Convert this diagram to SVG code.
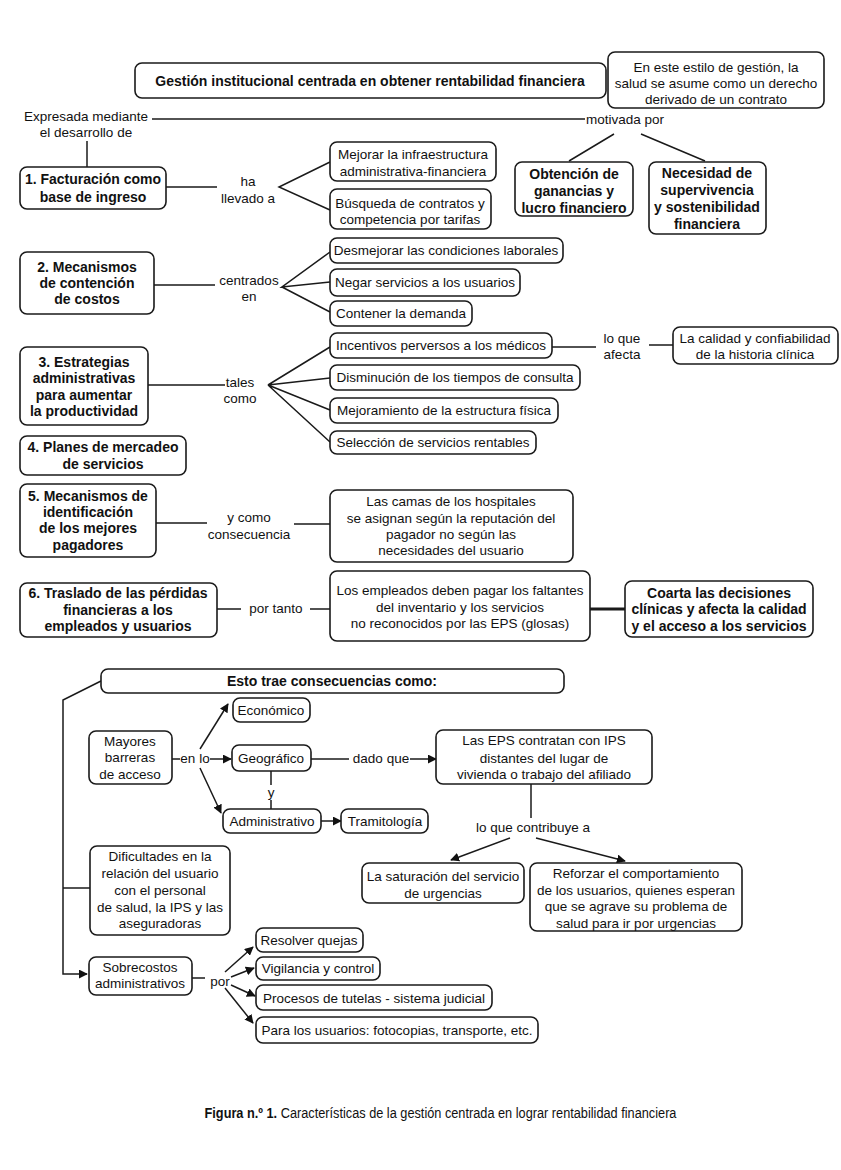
<svg xmlns="http://www.w3.org/2000/svg" width="841" height="1170" viewBox="0 0 841 1170">
<defs>
<style>
.b{fill:#fff;stroke:#1a1a1a;stroke-width:1.6}
text{font-family:"Liberation Sans",Arial,sans-serif;font-size:13.5px;fill:#111;text-anchor:middle}
.bd{font-weight:bold;font-size:14px}
.c{fill:none;stroke:#1a1a1a;stroke-width:1.5}
.a{marker-end:url(#ah)}
.cap{font-size:15px}
</style>
<marker id="ah" viewBox="0 0 10 10" refX="9" refY="5" markerWidth="9" markerHeight="9" markerUnits="userSpaceOnUse" orient="auto"><path d="M0,0 L10,5 L0,10 z" fill="#111"/></marker>
</defs>
<rect width="841" height="1170" fill="#fff"/>

<g id="connectors">
<path class="c" d="M152,119 H585"/>
<path class="c" d="M87,141 V167"/>
<path class="c" d="M614,134 L569,161 M641,134 L705,161"/>
<path class="c" d="M166,187 H217 M330,162 L279,187 L330,210"/>
<path class="c" d="M154,285 H215 M330,252 L282,287 L330,282 M282,287 L330,312"/>
<path class="c" d="M148,385 H225 M330,347 L268,385 L330,378 M268,385 L330,410 M268,385 L330,442"/>
<path class="c" d="M552,347 H596 M649,345 H673"/>
<path class="c" d="M156,523 H207 M294,524 H330"/>
<path class="c" d="M217,609 H241 M310,609 H330"/>
<path class="c" d="M590,609 H625" style="stroke-width:3"/>
<path class="c a" d="M101,681 L63,700 V974 H87"/>
<path class="c" d="M63,888 H90"/>
<path class="c" d="M172,759 H180"/>
<path class="c a" d="M210,759 H231"/>
<path class="c a" d="M200,749 L228,704"/>
<path class="c a" d="M200,768 L221,813"/>
<path class="c" d="M271,771 V785 M271,800 V809"/>
<path class="c a" d="M321,821 H341"/>
<path class="c" d="M311,759 H349"/>
<path class="c a" d="M410,759 H436"/>
<path class="c" d="M531,784 V818"/>
<path class="c a" d="M510,838 L451,860"/>
<path class="c a" d="M536,838 L625,861"/>
<path class="c" d="M192,978 H205"/>
<path class="c a" d="M225,972 L253,947"/>
<path class="c a" d="M231,977 L254,968"/>
<path class="c a" d="M231,985 L255,996"/>
<path class="c a" d="M225,988 L253,1023"/>
</g>

<g id="labels">
<text x="86" y="121">Expresada mediante</text>
<text x="86" y="137">el desarrollo de</text>
<text x="625" y="124">motivada por</text>
<text x="248" y="186">ha</text>
<text x="248" y="203">llevado a</text>
<text x="249" y="285">centrados</text>
<text x="249" y="301">en</text>
<text x="240" y="387">tales</text>
<text x="240" y="403">como</text>
<text x="622" y="343">lo que</text>
<text x="622" y="359">afecta</text>
<text x="249" y="522">y como</text>
<text x="249" y="539">consecuencia</text>
<text x="276" y="613">por tanto</text>
<text x="195" y="763">en lo</text>
<text x="271" y="797">y</text>
<text x="381" y="763">dado que</text>
<text x="533" y="832">lo que contribuye a</text>
<text x="220" y="986">por</text>
</g>

<g id="n-title"><rect class="b" x="135" y="63" width="471" height="35" rx="7"/><text class="bd" x="370" y="86">Gestión institucional centrada en obtener rentabilidad financiera</text></g>
<g id="n-derecho"><rect class="b" x="608" y="52" width="216" height="56" rx="7"/><text x="716" y="72">En este estilo de gestión, la</text><text x="716" y="88">salud se asume como un derecho</text><text x="716" y="104">derivado de un contrato</text></g>
<g id="n-obtencion"><rect class="b" x="515" y="162" width="118" height="54" rx="7"/><text class="bd" x="574" y="179">Obtención de</text><text class="bd" x="574" y="196">ganancias y</text><text class="bd" x="574" y="213">lucro financiero</text></g>
<g id="n-necesidad"><rect class="b" x="649" y="162" width="117" height="72" rx="7"/><text class="bd" x="707" y="178">Necesidad de</text><text class="bd" x="707" y="195">supervivencia</text><text class="bd" x="707" y="212">y sostenibilidad</text><text class="bd" x="707" y="229">financiera</text></g>

<g id="n-1"><rect class="b" x="20" y="167" width="146" height="42" rx="7"/><text class="bd" x="93" y="184">1. Facturación como</text><text class="bd" x="93" y="202">base de ingreso</text></g>
<g id="n-mejorar"><rect class="b" x="330" y="142" width="166" height="39" rx="7"/><text x="413" y="159">Mejorar la infraestructura</text><text x="413" y="176">administrativa-financiera</text></g>
<g id="n-busqueda"><rect class="b" x="330" y="189" width="161" height="40" rx="7"/><text x="410" y="208">Búsqueda de contratos y</text><text x="410" y="224">competencia por tarifas</text></g>

<g id="n-2"><rect class="b" x="20" y="252" width="134" height="62" rx="7"/><text class="bd" x="87" y="272">2. Mecanismos</text><text class="bd" x="87" y="288">de contención</text><text class="bd" x="87" y="304">de costos</text></g>
<g id="n-desmejorar"><rect class="b" x="330" y="238" width="233" height="25" rx="7"/><text x="446" y="255">Desmejorar las condiciones laborales</text></g>
<g id="n-negar"><rect class="b" x="330" y="269" width="190" height="27" rx="7"/><text x="425" y="287">Negar servicios a los usuarios</text></g>
<g id="n-contener"><rect class="b" x="330" y="301" width="142" height="25" rx="7"/><text x="401" y="318">Contener la demanda</text></g>

<g id="n-3"><rect class="b" x="20" y="347" width="128" height="78" rx="7"/><text class="bd" x="84" y="367">3. Estrategias</text><text class="bd" x="84" y="383">administrativas</text><text class="bd" x="84" y="400">para aumentar</text><text class="bd" x="84" y="416">la productividad</text></g>
<g id="n-incentivos"><rect class="b" x="330" y="333" width="222" height="25" rx="7"/><text x="441" y="350">Incentivos perversos a los médicos</text></g>
<g id="n-calidad"><rect class="b" x="673" y="327" width="165" height="37" rx="7"/><text x="755" y="343">La calidad y confiabilidad</text><text x="755" y="359">de la historia clínica</text></g>
<g id="n-disminucion"><rect class="b" x="330" y="365" width="250" height="25" rx="7"/><text x="455" y="382">Disminución de los tiempos de consulta</text></g>
<g id="n-mejoramiento"><rect class="b" x="330" y="398" width="228" height="25" rx="7"/><text x="444" y="415">Mejoramiento de la estructura física</text></g>
<g id="n-seleccion"><rect class="b" x="330" y="431" width="206" height="23" rx="7"/><text x="433" y="447">Selección de servicios rentables</text></g>

<g id="n-4"><rect class="b" x="20" y="436" width="166" height="39" rx="7"/><text class="bd" x="103" y="452">4. Planes de mercadeo</text><text class="bd" x="103" y="469">de servicios</text></g>

<g id="n-5"><rect class="b" x="20" y="484" width="136" height="73" rx="7"/><text class="bd" x="88" y="501">5. Mecanismos de</text><text class="bd" x="88" y="517">identificación</text><text class="bd" x="88" y="533">de los mejores</text><text class="bd" x="88" y="550">pagadores</text></g>
<g id="n-camas"><rect class="b" x="330" y="490" width="243" height="72" rx="7"/><text x="451" y="506">Las camas de los hospitales</text><text x="451" y="523">se asignan según la reputación del</text><text x="451" y="539">pagador  no según las</text><text x="451" y="555">necesidades del usuario</text></g>

<g id="n-6"><rect class="b" x="20" y="583" width="197" height="54" rx="7"/><text class="bd" x="118" y="598">6. Traslado de las pérdidas</text><text class="bd" x="118" y="615">financieras a los</text><text class="bd" x="118" y="631">empleados y usuarios</text></g>
<g id="n-empleados"><rect class="b" x="330" y="571" width="260" height="70" rx="7"/><text x="460" y="595">Los empleados deben pagar los faltantes</text><text x="460" y="612">del inventario y los servicios</text><text x="460" y="628">no reconocidos por las EPS (glosas)</text></g>
<g id="n-coarta"><rect class="b" x="625" y="581" width="188" height="56" rx="7"/><text class="bd" x="719" y="598">Coarta las decisiones</text><text class="bd" x="719" y="614">clínicas y afecta la calidad</text><text class="bd" x="719" y="631">y el acceso a los servicios</text></g>

<g id="n-esto"><rect class="b" x="101" y="669" width="463" height="24" rx="7"/><text class="bd" x="332" y="686">Esto trae consecuencias como:</text></g>
<g id="n-mayores"><rect class="b" x="89" y="731" width="83" height="53" rx="7"/><text x="130" y="746">Mayores</text><text x="130" y="762">barreras</text><text x="130" y="779">de acceso</text></g>
<g id="n-economico"><rect class="b" x="233" y="698" width="77" height="24" rx="7"/><text x="271" y="715">Económico</text></g>
<g id="n-geografico"><rect class="b" x="232" y="745" width="79" height="26" rx="7"/><text x="271" y="763">Geográfico</text></g>
<g id="n-administrativo"><rect class="b" x="223" y="809" width="98" height="24" rx="7"/><text x="272" y="826">Administrativo</text></g>
<g id="n-tramitologia"><rect class="b" x="341" y="809" width="87" height="24" rx="7"/><text x="385" y="826">Tramitología</text></g>
<g id="n-eps"><rect class="b" x="436" y="730" width="216" height="54" rx="7"/><text x="544" y="745">Las EPS contratan con IPS</text><text x="544" y="763">distantes del lugar de</text><text x="544" y="779">vivienda o trabajo del afiliado</text></g>
<g id="n-saturacion"><rect class="b" x="362" y="863" width="162" height="40" rx="7"/><text x="443" y="881">La saturación del servicio</text><text x="443" y="898">de urgencias</text></g>
<g id="n-reforzar"><rect class="b" x="530" y="863" width="212" height="68" rx="7"/><text x="636" y="878">Reforzar el comportamiento</text><text x="636" y="895">de los usuarios, quienes esperan</text><text x="636" y="911">que se agrave su problema de</text><text x="636" y="928">salud para ir por urgencias</text></g>
<g id="n-dificultades"><rect class="b" x="90" y="846" width="140" height="89" rx="7"/><text x="160" y="861">Dificultades en la</text><text x="160" y="878">relación del usuario</text><text x="160" y="895">con el personal</text><text x="160" y="912">de salud, la IPS y las</text><text x="160" y="928">aseguradoras</text></g>
<g id="n-sobrecostos"><rect class="b" x="89" y="957" width="103" height="38" rx="7"/><text x="140" y="972">Sobrecostos</text><text x="140" y="988">administrativos</text></g>
<g id="n-resolver"><rect class="b" x="256" y="928" width="107" height="24" rx="7"/><text x="309" y="945">Resolver quejas</text></g>
<g id="n-vigilancia"><rect class="b" x="256" y="957" width="124" height="23" rx="7"/><text x="318" y="973">Vigilancia y control</text></g>
<g id="n-procesos"><rect class="b" x="256" y="985" width="236" height="25" rx="7"/><text x="374" y="1003">Procesos de tutelas - sistema judicial</text></g>
<g id="n-usuarios"><rect class="b" x="256" y="1017" width="282" height="26" rx="7"/><text x="397" y="1035">Para los usuarios: fotocopias, transporte, etc.</text></g>

<g id="caption" transform="translate(440.5,1118) scale(0.85,1)">
<text class="cap" x="0" y="0"><tspan font-weight="bold">Figura n.º 1.</tspan> Características de la gestión centrada en lograr rentabilidad financiera</text>
</g>
</svg>
